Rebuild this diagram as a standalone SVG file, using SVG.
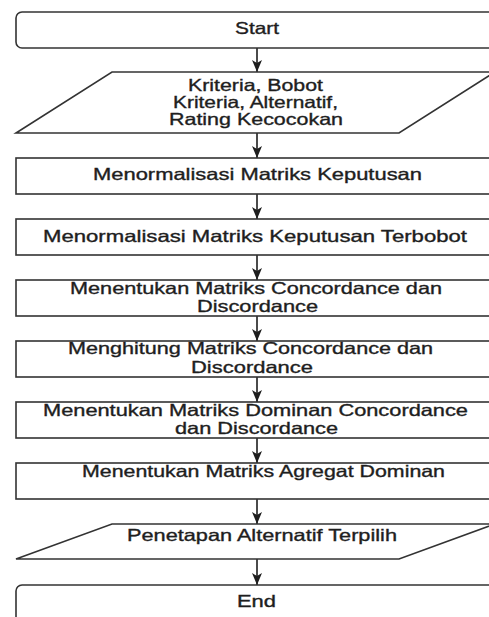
<svg xmlns="http://www.w3.org/2000/svg" width="489" height="617" viewBox="0 0 489 617">
<style>
.shape{fill:#ffffff;stroke:#333333;stroke-width:1.6}
.lbl{font-family:"Liberation Sans",Arial,sans-serif;font-size:16.5px;fill:#1e1e1e;stroke:#1e1e1e;stroke-width:0.35;text-anchor:start}
.conn{stroke:#1e1e1e;stroke-width:1.6;fill:none}
</style>
<defs>
<marker id="ah" viewBox="0 0 12 10" refX="12" refY="5" markerWidth="12" markerHeight="10" markerUnits="userSpaceOnUse" orient="auto">
<path d="M0,0 L12,5 L0,10 L3,5 z" fill="#1e1e1e"/>
</marker>
</defs>
<rect width="489" height="617" fill="#ffffff"/>
<g id="connectors">
<line class="conn" x1="257" y1="48" x2="257" y2="72" marker-end="url(#ah)"/>
<line class="conn" x1="257" y1="133" x2="257" y2="158" marker-end="url(#ah)"/>
<line class="conn" x1="257" y1="194" x2="257" y2="219" marker-end="url(#ah)"/>
<line class="conn" x1="257" y1="255" x2="257" y2="280" marker-end="url(#ah)"/>
<line class="conn" x1="257" y1="316" x2="257" y2="341" marker-end="url(#ah)"/>
<line class="conn" x1="257" y1="377" x2="257" y2="402" marker-end="url(#ah)"/>
<line class="conn" x1="257" y1="438" x2="257" y2="463" marker-end="url(#ah)"/>
<line class="conn" x1="257" y1="499" x2="257" y2="524" marker-end="url(#ah)"/>
<line class="conn" x1="257" y1="559" x2="257" y2="585" marker-end="url(#ah)"/>
</g>
<g id="start">
<rect class="shape" x="16" y="12" width="484" height="36" rx="6"/>
<text class="lbl" x="235" y="34" textLength="44" lengthAdjust="spacingAndGlyphs">Start</text>
</g>
<g id="input">
<polygon class="shape" points="112,72 495,72 399,133 16,133"/>
<text class="lbl" x="188" y="91" textLength="135" lengthAdjust="spacingAndGlyphs">Kriteria, Bobot</text>
<text class="lbl" x="173" y="108" textLength="165" lengthAdjust="spacingAndGlyphs">Kriteria, Alternatif,</text>
<text class="lbl" x="169" y="125" textLength="174" lengthAdjust="spacingAndGlyphs">Rating Kecocokan</text>
</g>
<g id="step1">
<rect class="shape" x="16" y="158" width="484" height="36"/>
<text class="lbl" x="93" y="180" textLength="329" lengthAdjust="spacingAndGlyphs">Menormalisasi Matriks Keputusan</text>
</g>
<g id="step2">
<rect class="shape" x="16" y="219" width="484" height="36"/>
<text class="lbl" x="43" y="242" textLength="424" lengthAdjust="spacingAndGlyphs">Menormalisasi Matriks Keputusan Terbobot</text>
</g>
<g id="step3">
<rect class="shape" x="16" y="280" width="484" height="36"/>
<text class="lbl" x="70" y="294" textLength="372" lengthAdjust="spacingAndGlyphs">Menentukan Matriks Concordance dan</text>
<text class="lbl" x="197" y="312" textLength="121" lengthAdjust="spacingAndGlyphs">Discordance</text>
</g>
<g id="step4">
<rect class="shape" x="16" y="341" width="484" height="36"/>
<text class="lbl" x="68" y="354" textLength="365" lengthAdjust="spacingAndGlyphs">Menghitung Matriks Concordance dan</text>
<text class="lbl" x="191" y="373" textLength="122" lengthAdjust="spacingAndGlyphs">Discordance</text>
</g>
<g id="step5">
<rect class="shape" x="16" y="402" width="484" height="36"/>
<text class="lbl" x="43" y="416" textLength="425" lengthAdjust="spacingAndGlyphs">Menentukan Matriks Dominan Concordance</text>
<text class="lbl" x="175" y="434" textLength="163" lengthAdjust="spacingAndGlyphs">dan Discordance</text>
</g>
<g id="step6">
<rect class="shape" x="16" y="463" width="484" height="36"/>
<text class="lbl" x="82" y="477" textLength="363" lengthAdjust="spacingAndGlyphs">Menentukan Matriks Agregat Dominan</text>
</g>
<g id="output">
<polygon class="shape" points="112,524 495,524 399,559 16,559"/>
<text class="lbl" x="127" y="541" textLength="270" lengthAdjust="spacingAndGlyphs">Penetapan Alternatif Terpilih</text>
</g>
<g id="end">
<rect class="shape" x="16" y="585" width="484" height="50" rx="6"/>
<text class="lbl" x="237" y="607" textLength="39" lengthAdjust="spacingAndGlyphs">End</text>
</g>
</svg>
